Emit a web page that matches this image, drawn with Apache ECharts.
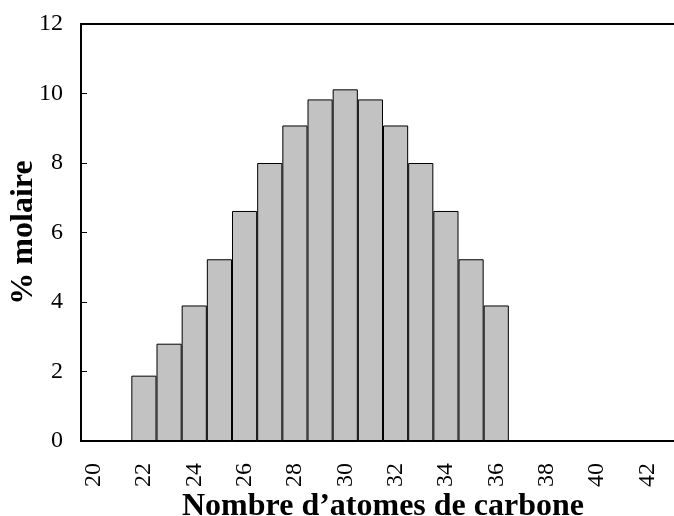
<!DOCTYPE html>
<html>
<head>
<meta charset="utf-8">
<script src="https://cdn.jsdelivr.net/npm/echarts@6/dist/echarts.min.js"></script>
<style>
  html, body { margin: 0; padding: 0; background: #fff; }
  #chart { width: 674px; height: 516px; }
</style>
</head>
<body>
<div id="chart"></div>
<script>
// Carbon numbers on the x axis
const carbonNumbers = [20, 21, 22, 23, 24, 25, 26, 27, 28, 29, 30, 31,
                       32, 33, 34, 35, 36, 37, 38, 39, 40, 41, 42, 43];
// Mole percent for each carbon number
const molePercent = [0, 0, 1.88, 2.8, 3.9, 5.23, 6.62, 8.0, 9.08, 9.83, 10.12, 9.83,
                     9.08, 8.0, 6.62, 5.23, 3.9, 0, 0, 0, 0, 0, 0, 0];
// Value axis ticks
const yTicks = [0, 2, 4, 6, 8, 10, 12];

const font = '"Liberation Serif", "DejaVu Serif", serif';
const chart = echarts.init(document.getElementById('chart'));

chart.setOption({
  animation: false,
  grid: {
    left: 81, top: 24, bottom: 75, right: -11,
    containLabel: false,
    outerBoundsMode: 'none',
    show: true, borderColor: '#000', borderWidth: 2, backgroundColor: 'transparent'
  },
  xAxis: {
    type: 'category',
    data: carbonNumbers.map(String),
    boundaryGap: true,
    name: 'Nombre d\u2019atomes de carbone',
    nameLocation: 'middle',
    nameGap: 50,
    nameMoveOverlap: false,
    nameTextStyle: { fontFamily: font, fontWeight: 'bold', fontSize: 32, color: '#000' },
    axisLine: { lineStyle: { color: '#000', width: 2 } },
    axisTick: { inside: true, length: 5, interval: 0, lineStyle: { color: '#000', width: 1 } },
    axisLabel: { interval: 1, rotate: 90, margin: 22, fontFamily: font, fontSize: 24, color: '#000' },
    splitLine: { show: false }
  },
  yAxis: {
    type: 'value',
    min: yTicks[0],
    max: yTicks[yTicks.length - 1],
    interval: 2,
    name: '% molaire',
    nameLocation: 'middle',
    nameGap: 41,
    nameRotate: 90,
    nameMoveOverlap: false,
    nameTextStyle: { fontFamily: font, fontWeight: 'bold', fontSize: 32, color: '#000' },
    axisLine: { show: true, lineStyle: { color: '#000', width: 2 } },
    axisTick: { show: true, inside: true, length: 6, lineStyle: { color: '#000', width: 1 } },
    axisLabel: { margin: 18, fontFamily: font, fontSize: 24, color: '#000' },
    splitLine: { show: false }
  },
  series: [{
    type: 'bar',
    data: molePercent,
    barCategoryGap: '0%',
    itemStyle: { color: '#c2c2c2', borderColor: '#000', borderWidth: 1 }
  }]
});
</script>
</body>
</html>
